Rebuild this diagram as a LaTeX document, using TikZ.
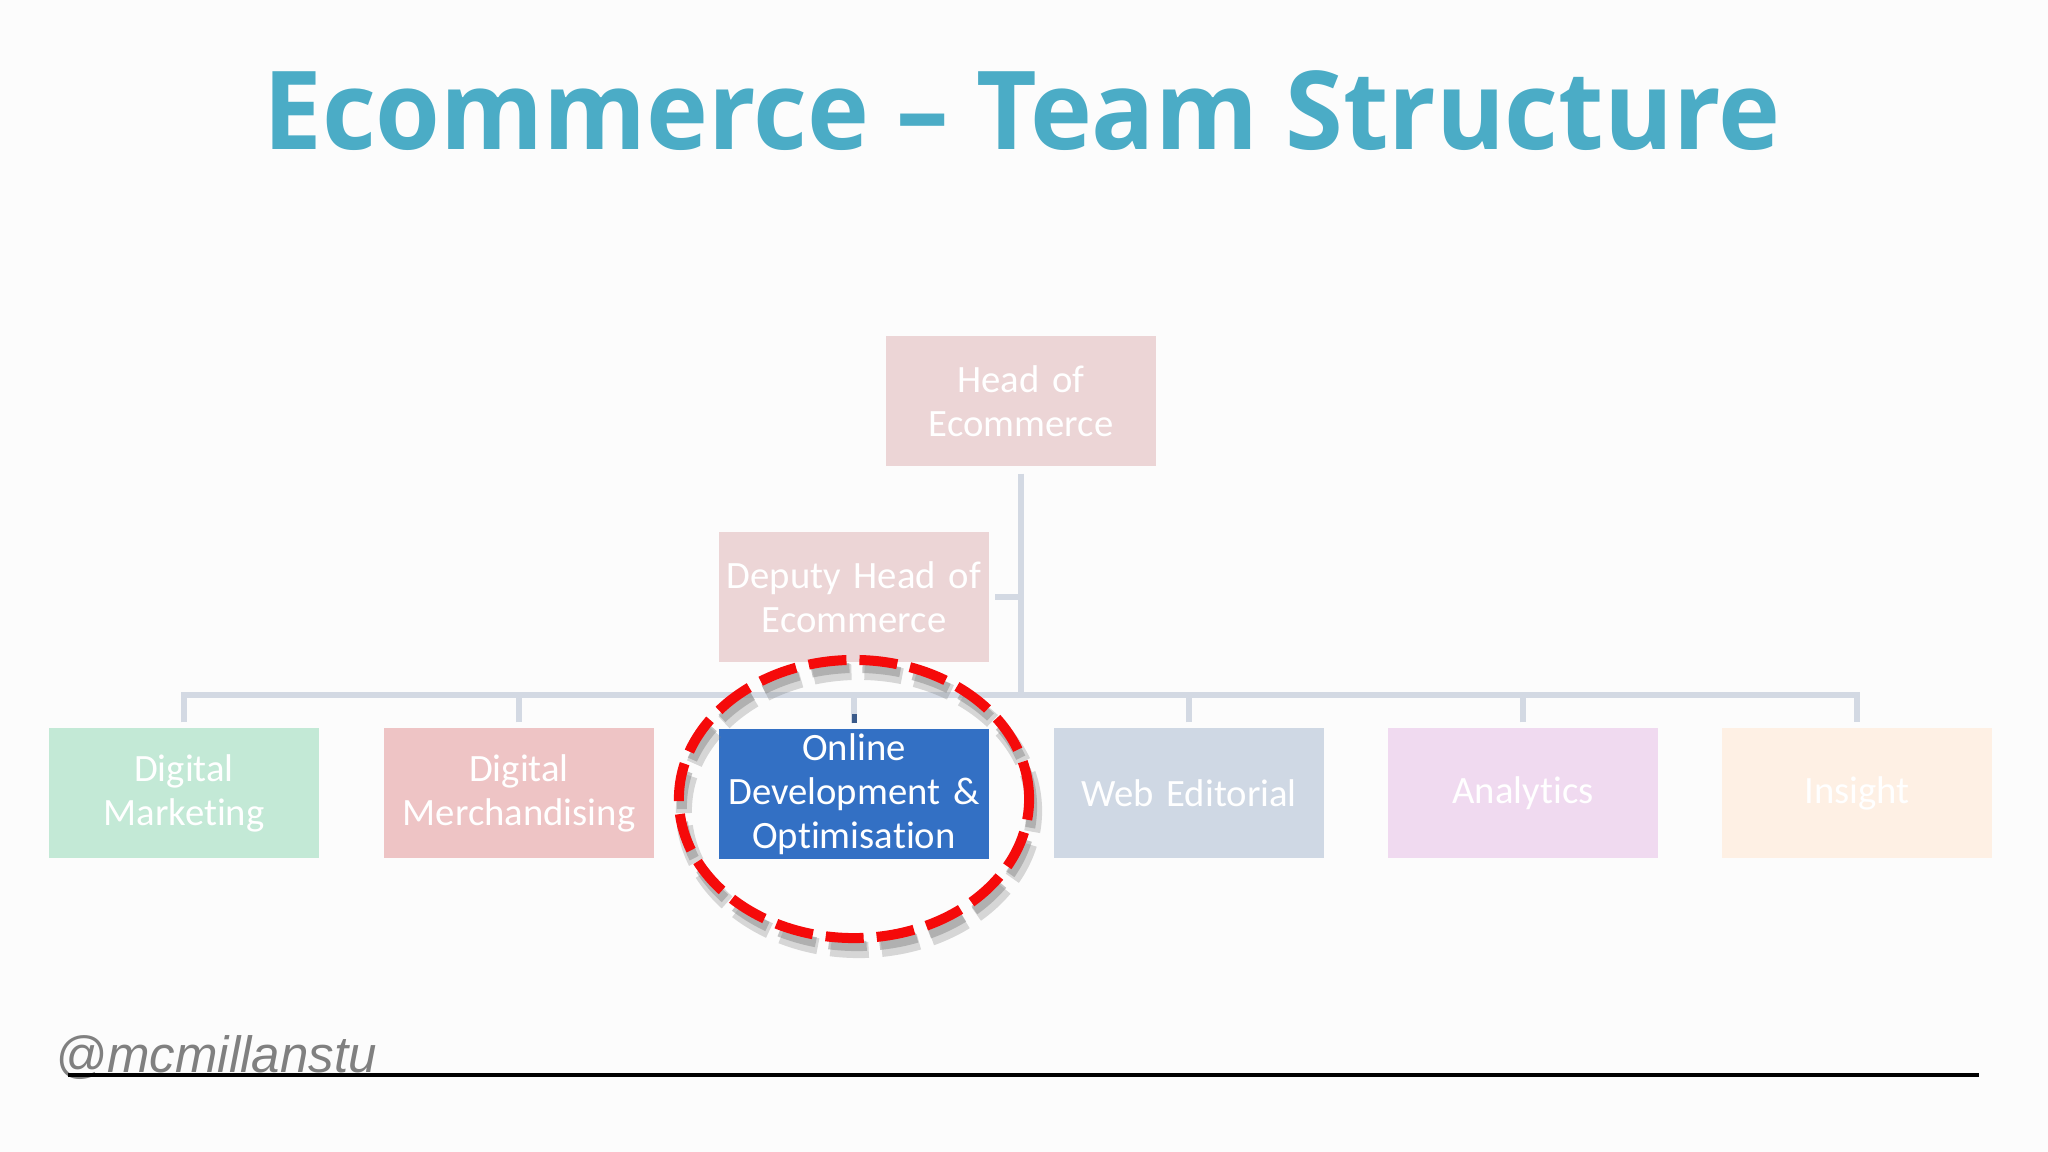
\documentclass[tikz,border=0pt]{standalone}
\usepackage{fontspec}
\setmainfont{Carlito}[Ligatures=NoCommon]
\newfontfamily\titlefont{Open Sans}
\newfontfamily\footfont{Liberation Sans}
\usetikzlibrary{positioning, calc, shapes.geometric}

\definecolor{titleblue}{HTML}{4BACC6}
\definecolor{linkgrey}{HTML}{D3D9E3}
\definecolor{headpink}{HTML}{ECD5D6}
\definecolor{mintgreen}{HTML}{C3E9D6}
\definecolor{rosepink}{HTML}{EEC4C5}
\definecolor{devblue}{HTML}{3370C4}
\definecolor{slategrey}{HTML}{CFD8E4}
\definecolor{lilac}{HTML}{F0DAF0}
\definecolor{peach}{HTML}{FEF0E4}
\definecolor{tickblue}{HTML}{3A5A8A}
\definecolor{ringred}{HTML}{F50A0A}

\begin{document}
\begin{tikzpicture}[x=0.01cm, y=-0.01cm,
  every node/.style={font=\fontsize{11}{12.5}\selectfont},
  unit/.style={fill=#1, text=white, minimum width=2.69cm, minimum height=1.3cm,
    text width=2.6cm, align=center, inner sep=0pt},
  link/.style={draw=linkgrey, line width=0.06cm},
  ring/.style={ellipse, minimum width=3.5cm, minimum height=2.78cm,
    line width=0.1cm, dash pattern=on 0.38cm off 0.13cm}]
  \fill[white!98!gray] (0,0) rectangle (2048,1152);
  \useasboundingbox (0,0) rectangle (2048,1152);

  \node[font=\titlefont\bfseries\fontsize{29.8}{29.8}\selectfont, text=titleblue, anchor=base] (title) at (1022,150) {\scalebox{1}[1.04]{Ecommerce – Team Structure}};

  % management
  \node[unit=headpink] (head) at (1021,401) {Head of\\Ecommerce};
  \node[unit=headpink] (deputy) at (854,597) {Deputy Head of\\Ecommerce};

  % teams
  \node[unit=mintgreen] (marketing) at (184,793) {Digital\\Marketing};
  \node[unit=rosepink] (merch) at (519,793) {Digital\\Merchandising};
  \node[unit=devblue] (online) at (854,794) {Online\\Development \&\\Optimisation};
  \node[unit=slategrey] (editorial) at (1189,793) {Web Editorial};
  \node[unit=lilac] (analytics) at (1523,793) {Analytics};
  \node[unit=peach] (insight) at (1857,793) {Insight};

  \coordinate (bus) at (1020,695);
  \draw[link] ([yshift=-0.07cm]head.south) -- (head |- bus);
  \draw[link] ([xshift=0.06cm]deputy.east) -- (deputy -| head);
  \draw[link] ([yshift=0.05cm]marketing.north) |- (bus) -| ([yshift=0.05cm]insight.north);
  \foreach \team in {merch, online, editorial, analytics}
    \draw[link] ([yshift=0.05cm]\team.north) -- (\team |- bus);
  \draw[tickblue, line width=0.05cm] ([yshift=0.05cm]online.north) -- ++(0,-9);

  % highlight
  \node[ring, draw=black!50, opacity=0.3, line width=0.16cm] (ringshade) at (859,811) {};
  \node[ring, draw=black!45, opacity=0.5] (ringshadow) at (857,807) {};
  \node[ring, draw=ringred] (ring) at (854,799) {};

  % footer
  \node[font=\footfont\itshape\fontsize{14.5}{14.5}\selectfont, text=black!50, anchor=base west, inner sep=0pt] (handle) at (55,1072) {@mcmillanstu};
  \coordinate (ruleend) at (1979,1075);
  \draw[line width=0.04cm] (68,1075) -- (ruleend);
\end{tikzpicture}
\end{document}
